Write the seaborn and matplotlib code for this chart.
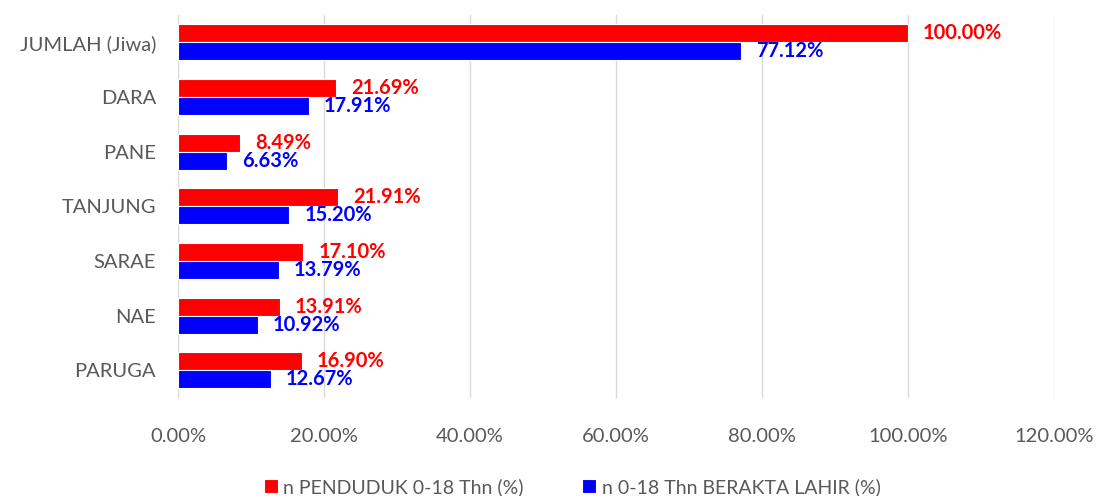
import matplotlib
matplotlib.use("Agg")
import matplotlib.pyplot as plt
import seaborn as sns
import pandas as pd
from matplotlib.ticker import FuncFormatter

kategori = ["JUMLAH (Jiwa)", "DARA", "PANE", "TANJUNG", "SARAE", "NAE", "PARUGA"]
penduduk = [100.00, 21.69, 8.49, 21.91, 17.10, 13.91, 16.90]
berakta = [77.12, 17.91, 6.63, 15.20, 13.79, 10.92, 12.67]
seri = ["n PENDUDUK 0-18 Thn (%)", "n 0-18 Thn BERAKTA LAHIR (%)"]
warna = ["#FF0000", "#0000FF"]

df = pd.DataFrame({
    "kategori": kategori * 2,
    "nilai": penduduk + berakta,
    "seri": [seri[0]] * len(kategori) + [seri[1]] * len(kategori),
})

sns.set_style("white")
plt.rcParams["font.family"] = ["Lato", "DejaVu Sans"]

fig = plt.figure(figsize=(11, 4.96), dpi=100)
ax = fig.add_axes([0.162, 0.198, 0.796, 0.772])

sns.barplot(data=df, y="kategori", x="nilai", hue="seri", palette=warna,
            saturation=1, orient="h", width=0.66, edgecolor="white", linewidth=0.8,
            order=kategori, hue_order=seri, ax=ax)

for cont, c in zip(ax.containers, warna):
    ax.bar_label(cont, labels=[f"{v:.2f}%" for v in cont.datavalues],
                 padding=11, color=c, fontsize=14.5, fontweight="bold")

ax.set_xlim(0, 120)
ax.set_xticks(range(0, 121, 20))
ax.xaxis.set_major_formatter(FuncFormatter(lambda v, p: f"{v:.2f}%"))
ax.grid(axis="x", color="#D9D9D9", linewidth=1)
ax.set_axisbelow(True)
for s in ax.spines.values():
    s.set_visible(False)
ax.tick_params(axis="both", length=0, labelsize=14.5, colors="#595959")
ax.tick_params(axis="y", pad=16)
ax.tick_params(axis="x", pad=22)
ax.set_xlabel("")
ax.set_ylabel("")

ax.legend(loc="upper center", bbox_to_anchor=(0.45, -0.21), ncol=2, frameon=False,
          fontsize=14, labelcolor="#595959", handlelength=0.7, handleheight=0.7,
          handletextpad=0.3, columnspacing=3, borderaxespad=0, borderpad=0)

fig.savefig("out.png", dpi=100)
